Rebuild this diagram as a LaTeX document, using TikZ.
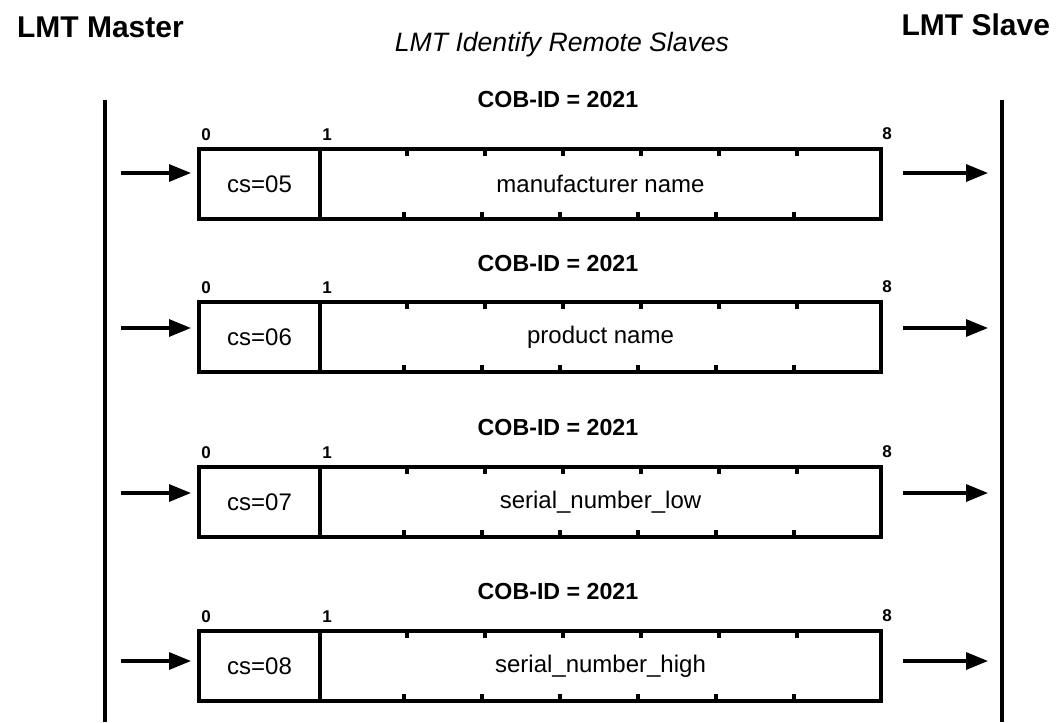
\documentclass[tikz,border=0pt]{standalone}
\usepackage{fontspec}
\setmainfont{Liberation Sans}
\usetikzlibrary{arrows.meta,positioning,calc}

\begin{document}
\begin{tikzpicture}[
  x=0.5pt, y=-0.5pt,
  font=\fontsize{12}{14}\selectfont,
  csbox/.style={draw, line width=1.6pt, outer sep=0pt, inner sep=0pt,
                minimum width=60.5pt, minimum height=35pt, anchor=north west},
  databox/.style={draw, line width=1.6pt, outer sep=0pt, inner sep=0pt,
                  minimum width=280.5pt, minimum height=35pt},
  heading/.style={font=\fontsize{15}{18}\selectfont\bfseries},
  cobid/.style={font=\fontsize{11.6}{14}\selectfont\bfseries},
  bytenum/.style={font=\fontsize{8.5}{9}\selectfont\bfseries, inner sep=0pt,
                  anchor=south west},
  bytetick/.style={line width=1.6pt},
  lifeline/.style={line width=2.2pt},
  msg/.style={-{Triangle[length=11pt,width=8.5pt]}, line width=1.6pt}]
\useasboundingbox (0,0) rectangle (1063,722);
\node[heading, anchor=west] (master) at (10,27) {LMT Master};
\node[heading, anchor=east] (slave) at (1057,25) {LMT Slave};
\node[font=\fontsize{13.3}{16}\selectfont\itshape] (title) at (562,45)
  {LMT Identify Remote Slaves};
\coordinate (mtop) at (105,100);
\coordinate (mbot) at (105,722);
\coordinate (stop) at (1002,100);
\coordinate (sbot) at (1002,722);
\draw[lifeline] (mtop) -- (mbot);
\draw[lifeline] (stop) -- (sbot);
% one frame per command specifier
\foreach \i/\ytop/\ycob/\ymsg/\csval/\txt in {
    1/149/100/173/05/manufacturer name,
    2/302/264/328/06/product name,
    3/467/428/493/07/serial\_number\_low,
    4/631/592/661/08/serial\_number\_high} {
  \node[csbox] (cs\i) at (199,\ytop) {cs=\csval\hspace{7pt}};
  \node[databox, right=0pt of cs\i] (data\i) {\txt};
  \node[cobid] (cob\i) at (558,\ycob) {COB-ID = 2021};
  \node[bytenum] (b0\i) at ([xshift=1pt,yshift=4pt]cs\i.north west) {0};
  \node[bytenum] (b1\i) at ([xshift=1pt,yshift=4pt]data\i.north west) {1};
  \node[bytenum] (b8\i) at ([xshift=0.5pt,yshift=4.5pt]data\i.north east) {8};
  \foreach \k in {0,...,5} {
    \draw[bytetick] ($(data\i.north west)+(87+78*\k,0)$) -- ++(0,7);
    \draw[bytetick] ($(data\i.south west)+(84+78*\k,0)$) -- ++(0,-7);
  }
  \coordinate (in\i) at (105,\ymsg);
  \coordinate (out\i) at (1002,\ymsg);
  \draw[msg, shorten <=8pt, shorten >=4pt] (in\i) -- (in\i -| cs\i.west);
  \draw[msg, shorten <=11pt, shorten >=7pt] (out\i -| data\i.east) -- (out\i);
}
\end{tikzpicture}
\end{document}
